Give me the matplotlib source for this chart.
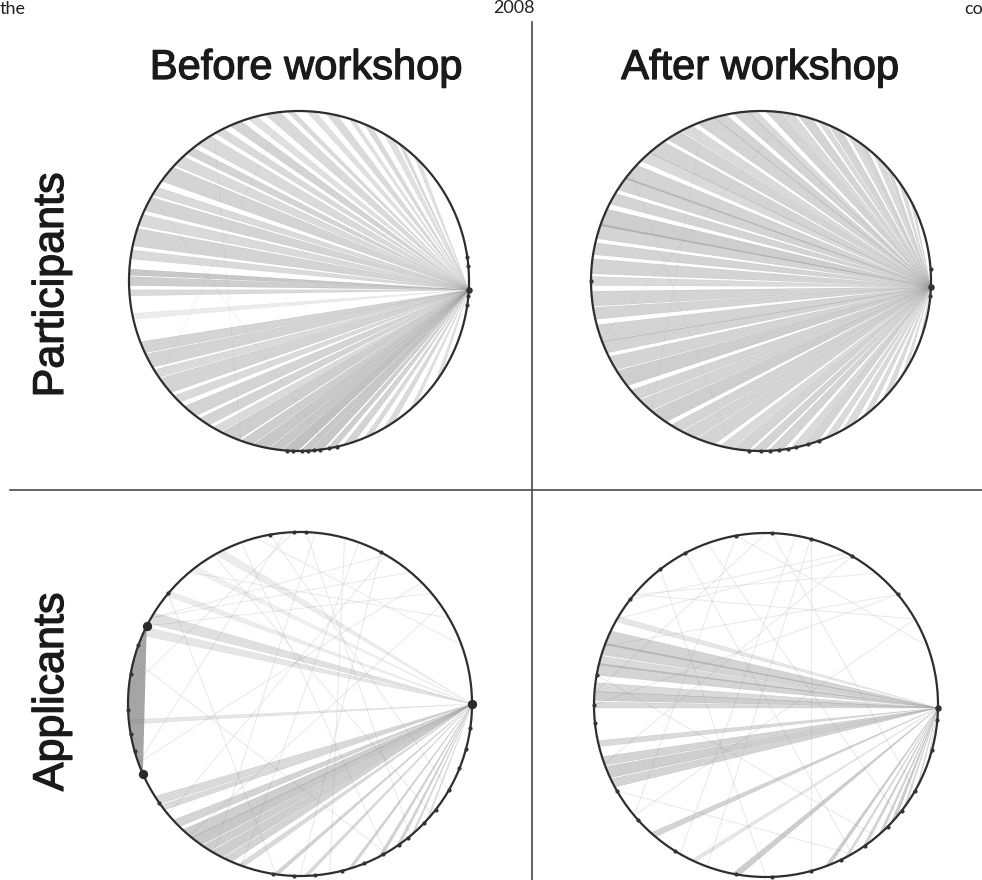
import numpy as np
import matplotlib
matplotlib.use("Agg")
import matplotlib.pyplot as plt
from matplotlib.patches import Polygon, Circle
from matplotlib.lines import Line2D
import matplotlib.patheffects as pe

# ---------------------------------------------------------------------------
# Network data: a hub node on the circle, ties from the hub to other members
# (angle of the member on the circle in degrees, angular spread of the tie
# bundle, tone), faint ties among other members, and node positions.
# ---------------------------------------------------------------------------
column_titles = ["Before workshop", "After workshop"]
row_titles = ["Participants", "Applicants"]

# Participants, before workshop
part_before_hub = -3
part_before_tie_angle = [46, 53, 58, 66, 72, 79, 86, 93, 99, 106, 112, 118, 124, 130,
                         135, 141, 148, 153, 159, 165, 171, 177, 180, 184, 192, 203,
                         208, 213, 218, 224, 230, 236, 241, 246, 252, 257, 262, 267,
                         272, 276, 281, 287, 294, 302, 312, 325]
part_before_tie_spread = [3, 2, 4, 3, 2, 4, 3, 2, 5, 3, 4, 3, 5, 3,
                          4, 6, 3, 5, 4, 6, 3, 2, 3, 2, 2, 4,
                          5, 3, 6, 3, 5, 4, 3, 6, 4, 5, 4, 5,
                          3, 4, 3, 4, 3, 4, 3, 4]
part_before_tie_tone = [.25, .3, .25, .3, .25, .3, .25, .3, .3, .25, .35, .3, .3, .35,
                        .3, .35, .3, .35, .3, .35, .3, .45, .4, .3, .15, .35,
                        .35, .3, .35, .3, .35, .35, .3, .4, .4, .45, .45, .5,
                        .45, .45, .4, .35, .3, .3, .25, .25]
part_before_nodes = [266, 268, 271, 273, 275, 277, 280, 283, 352, 355, 5, 8]
part_before_links = [(120, 250), (95, 215), (150, 280)]

# Participants, after workshop
part_after_hub = -2
part_after_tie_angle = [27, 34, 41, 46, 53, 57, 64, 69, 75, 81, 86, 93, 97, 104, 109,
                        116, 121, 128, 133, 140, 145, 151, 158, 163, 169, 175, 180,
                        186, 191, 198, 203, 209, 215, 222, 227, 233, 240, 245, 251,
                        258, 263, 269, 275, 282, 287, 294, 301, 309, 318, 328, 340]
part_after_tie_spread = [3, 4, 3, 5, 3, 4, 5, 3, 5, 4, 5, 3, 5, 4, 6,
                         4, 5, 6, 4, 6, 5, 4, 6, 5, 4, 5, 3,
                         5, 4, 6, 4, 5, 6, 4, 5, 6, 4, 5, 6,
                         4, 5, 4, 5, 4, 5, 4, 5, 4, 5, 4, 3]
part_after_tie_tone = [.3, .3, .35, .3, .35, .3, .35, .3, .35, .3, .35, .3, .35, .35, .35,
                       .3, .35, .35, .3, .35, .35, .35, .4, .35, .35, .35, .3,
                       .35, .35, .35, .35, .35, .4, .35, .35, .4, .35, .35, .35,
                       .3, .35, .35, .35, .3, .35, .3, .3, .3, .3, .25, .25]
part_after_nodes = [180, 266, 270, 273, 276, 279, 282, 286, 290, 355, 4]
part_after_links = [(110, 230), (140, 260), (80, 200)]

# Applicants, before workshop
appl_before_hub = 0
appl_before_tie_angle = [118, 128, 140, 150, 155, 186, 214, 217, 224, 229, 233, 237,
                         241, 245, 250, 262, 272, 287, 298, 305, 311, 318]
appl_before_tie_spread = [3, 2, 2, 4, 3, 1.5, 3, 2, 3, 4, 4, 3,
                          4, 3, 2, 1.5, 1.5, 1.5, 2, 2, 1.5, 1.5]
appl_before_tie_tone = [.15, .12, .15, .25, .2, .2, .3, .3, .35, .4, .45, .4,
                        .4, .35, .3, .35, .3, .35, .35, .35, .3, .25]
appl_before_nodes = [62, 88, 92, 100, 140, 160, 170, 182, 190, 196, 215, 261, 268,
                     275, 284, 292, 299, 305, 309, 316, 322, 330, 338, 345, 352]
appl_before_big = [153, 204, 0]
appl_before_links = [(95, 200), (60, 220), (110, 300), (130, 30), (70, 250),
                     (100, 330), (140, 262), (85, 240), (45, 200), (120, 320),
                     (150, 60), (75, 280), (35, 230), (92, 175), (62, 270),
                     (105, 20), (153, 40), (165, 300), (50, 150), (88, 310)]
appl_before_cluster = (153, 204)

# Applicants, after workshop
appl_after_hub = -1
appl_after_tie_angle = [150, 157, 161, 165, 168, 174, 177, 180, 193, 199, 203, 207,
                        229, 245, 260, 291, 298, 305, 312, 318, 324, 332, 340]
appl_after_tie_spread = [2, 5, 4, 3, 4, 3, 3, 2, 2, 3, 4, 3,
                         2, 1.5, 2.5, 2, 1.5, 2, 2, 3, 2, 2, 1.5]
appl_after_tie_tone = [.2, .35, .35, .3, .35, .3, .4, .3, .3, .35, .4, .35,
                       .35, .2, .4, .4, .3, .35, .35, .4, .3, .3, .25]
appl_after_nodes = [40, 60, 75, 88, 100, 118, 128, 142, 170, 180, 186, 210, 222, 238,
                    260, 272, 285, 296, 305, 315, 322, 330, 345, 355]
appl_after_links = [(100, 220), (60, 200), (118, 300), (140, 30), (75, 250),
                    (88, 330), (128, 270), (40, 180), (60, 150), (110, 320),
                    (142, 62), (75, 285), (30, 220), (90, 176), (210, 300),
                    (100, 20), (160, 40), (170, 310), (50, 140), (80, 240)]

# ---------------------------------------------------------------------------
W, H = 982, 880
fig = plt.figure(figsize=(W / 100, H / 100), dpi=100)
fig.patch.set_facecolor("white")

EXT = 1.1
TIE_COLOR = "#858585"
LINK_COLOR = "#d2d2d2"
RIM_COLOR = "#2e2e2e"


def on_circle(deg):
    t = np.deg2rad(deg)
    return np.cos(t), np.sin(t)


def add_panel(cx, cy, r, hub, tie_angle, tie_spread, tie_tone, nodes,
              links, big=(), cluster=None, link_alpha=0.5):
    size = 2 * EXT * r
    ax = fig.add_axes([(cx - size / 2) / W, (H - cy - size / 2) / H, size / W, size / H])
    ax.set_xlim(-EXT, EXT)
    ax.set_ylim(-EXT, EXT)
    ax.set_aspect("equal")
    ax.axis("off")

    hx, hy = on_circle(hub)
    for a, b in links:
        x1, y1 = on_circle(a)
        x2, y2 = on_circle(b)
        ax.plot([x1, x2], [y1, y2], color=LINK_COLOR, lw=0.7, alpha=link_alpha, zorder=1)

    if cluster is not None:
        arc = np.linspace(cluster[0], cluster[1], 60)
        px, py = on_circle(arc)
        ax.add_patch(Polygon(np.column_stack([px, py]), closed=True,
                             fc="#6a6a6a", ec="none", alpha=0.6, zorder=2))

    for a, s, tone in zip(tie_angle, tie_spread, tie_tone):
        x1, y1 = on_circle(a - s / 2)
        x2, y2 = on_circle(a + s / 2)
        ax.add_patch(Polygon([[hx, hy], [x1, y1], [x2, y2]], closed=True,
                             fc=TIE_COLOR, ec=TIE_COLOR, lw=0.3, alpha=tone, zorder=2))

    ax.add_patch(Circle((0, 0), 1, fill=False, ec=RIM_COLOR, lw=1.6, zorder=3))
    nx, ny = on_circle(np.array(nodes, dtype=float))
    ax.scatter(nx, ny, s=9, color="#333333", zorder=4, linewidths=0)
    ax.scatter([hx], [hy], s=22, color="#333333", zorder=4, linewidths=0)
    if len(big):
        bx, by = on_circle(np.array(big, dtype=float))
        ax.scatter(bx, by, s=45, color="#2a2a2a", zorder=4, linewidths=0)
    return ax


add_panel(299, 281, 170, part_before_hub, part_before_tie_angle, part_before_tie_spread,
          part_before_tie_tone, part_before_nodes, part_before_links, link_alpha=0.25)
add_panel(761, 281, 170, part_after_hub, part_after_tie_angle, part_after_tie_spread,
          part_after_tie_tone, part_after_nodes, part_after_links, link_alpha=0.25)
add_panel(300, 704, 172, appl_before_hub, appl_before_tie_angle, appl_before_tie_spread,
          appl_before_tie_tone, appl_before_nodes, appl_before_links,
          big=appl_before_big, cluster=appl_before_cluster)
add_panel(766, 705, 172, appl_after_hub, appl_after_tie_angle, appl_after_tie_spread,
          appl_after_tie_tone, appl_after_nodes, appl_after_links)

# dividing rules
fig.add_artist(Line2D([532 / W, 532 / W], [1 - 22 / H, 0], color="#4a4a4a", lw=1.2))
fig.add_artist(Line2D([10 / W, 1], [1 - 490 / H, 1 - 490 / H], color="#4a4a4a", lw=1.2))

# headings
heavy = [pe.withStroke(linewidth=0.9, foreground="#1a1a1a")]
for x, label in zip([306, 760], column_titles):
    fig.text(x / W, 1 - 68 / H, label, ha="center", va="center", fontsize=30,
             family="Liberation Sans", color="#1a1a1a", path_effects=heavy)
for y, label in zip([285, 692], row_titles):
    fig.text(52 / W, 1 - y / H, label, ha="center", va="center", fontsize=31,
             rotation=90, family="Liberation Sans", color="#1a1a1a", path_effects=heavy)

# running text from the surrounding page
for x, y, s, ha in [(0, 14, "the", "left"), (514, 13, "2008", "center"), (983, 14, "co", "right")]:
    fig.text(x / W, 1 - y / H, s, ha=ha, va="baseline", fontsize=13, family="Lato",
             color="#222222")

fig.savefig("out.png", dpi=100)
